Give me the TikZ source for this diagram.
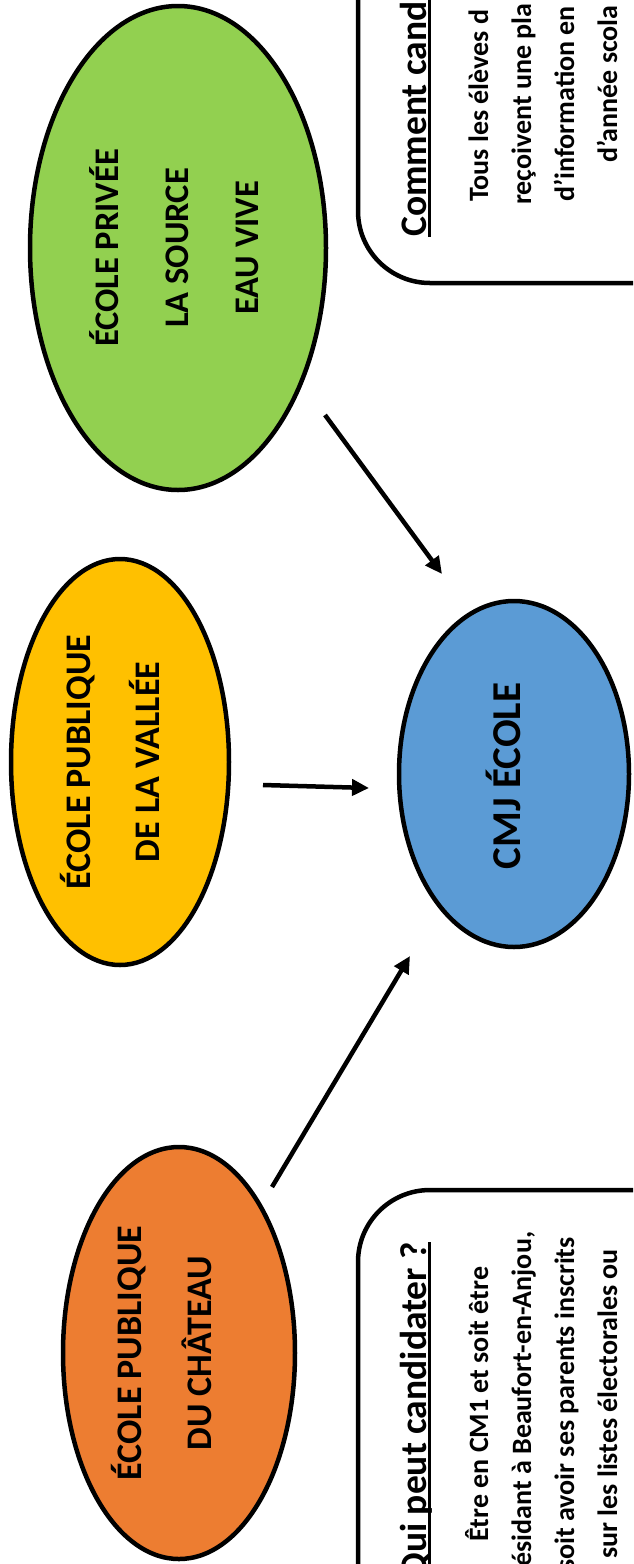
\documentclass[tikz,border=0pt]{standalone}
\usepackage{fontspec}
\setmainfont{Carlito}
\usetikzlibrary{arrows.meta,shapes.geometric}
\definecolor{cgreen}{HTML}{92D050}
\definecolor{cyellow}{HTML}{FFC000}
\definecolor{cblue}{HTML}{5B9BD5}
\definecolor{corange}{HTML}{ED7D31}
\begin{document}
\begin{tikzpicture}[x=1pt,y=-1pt,
  ell/.style={ellipse, draw=black, line width=4.5pt, inner sep=0pt},
  etext/.style={rotate=90, align=center, inner sep=0pt},
  arr/.style={line width=4.5pt, -{Triangle[length=17pt,width=16pt]}},
  boxframe/.style={draw=black, line width=4.5pt, rounded corners=72pt},
  btitle/.style={rotate=90, inner sep=0pt, font=\bfseries\fontsize{37.5}{46}\selectfont},
  bline/.style={rotate=90, inner sep=0pt, font=\bfseries\fontsize{28}{34}\selectfont},
  uline/.style={line width=2.5pt},
]
\useasboundingbox (0,0) rectangle (633,1564);
\clip (0,0) rectangle (633,1564);

% ellipses
\node[ell, fill=cgreen, minimum width=296pt, minimum height=484pt] (prive) at (178,248) {};
\node[etext, font=\bfseries\fontsize{34.5}{70}\selectfont] (privet) at (174.5,248) {ÉCOLE PRIVÉE\\LA SOURCE\\EAU VIVE};

\node[ell, fill=cyellow, minimum width=218pt, minimum height=406pt] (vallee) at (120,762) {};
\node[etext, font=\bfseries\fontsize{36}{69}\selectfont] (valleet) at (109.5,762) {ÉCOLE PUBLIQUE\\DE LA VALLÉE};

\node[ell, fill=cblue, minimum width=230pt, minimum height=346pt] (cmj) at (514,774) {};
\node[etext, font=\bfseries\fontsize{41}{48}\selectfont] (cmjt) at (503,776) {CMJ ÉCOLE};

\node[ell, fill=corange, minimum width=232pt, minimum height=412pt] (chateau) at (179,1353) {};
\node[etext, font=\bfseries\fontsize{36}{70}\selectfont] (chateaut) at (161.5,1353) {ÉCOLE PUBLIQUE\\DU CHÂTEAU};

% arrows
\coordinate (g1) at (325,415); \coordinate (g2) at (442,574);
\coordinate (v1) at (263,785); \coordinate (v2) at (369,788);
\coordinate (c1) at (272,1187); \coordinate (c2) at (410,956);
\draw[arr] (g1) -- (g2);
\draw[arr] (v1) -- (v2);
\draw[arr] (c1) -- (c2);

% boxes
\draw[boxframe] (358,-300) rectangle (900,283);
\draw[boxframe] (358,1190) rectangle (900,1900);

% top box text
\node[btitle, anchor=base west] (t1) at (426,237) {Comment candi};
\draw[uline] ([xshift=3.5pt]t1.base west) -- ([xshift=3.5pt]t1.base east);
\node[bline, anchor=base west] (t1a) at (488,202) {Tous les élèves d};
\node[bline, anchor=base west] (t1b) at (531,205) {reçoivent une pla};
\node[bline, anchor=base west] (t1c) at (574,202) {d’information en};
\node[bline, anchor=base west] (t1d) at (617,163) {d’année scola};

% bottom box text
\node[btitle, anchor=base east] (t2) at (426,1242) {Qui peut candidater ?};
\draw[uline] ([xshift=3.5pt]t2.base west) -- ([xshift=3.5pt]t2.base east);
\node[bline, anchor=base] (t2a) at (488,1404) {Être en CM1 et soit être};
\node[bline, anchor=base] (t2b) at (531,1404) {résidant à Beaufort-en-Anjou,};
\node[bline, anchor=base] (t2c) at (574,1404) {soit avoir ses parents inscrits};
\node[bline, anchor=base] (t2d) at (617,1404) {sur les listes électorales ou};
\end{tikzpicture}
\end{document}
